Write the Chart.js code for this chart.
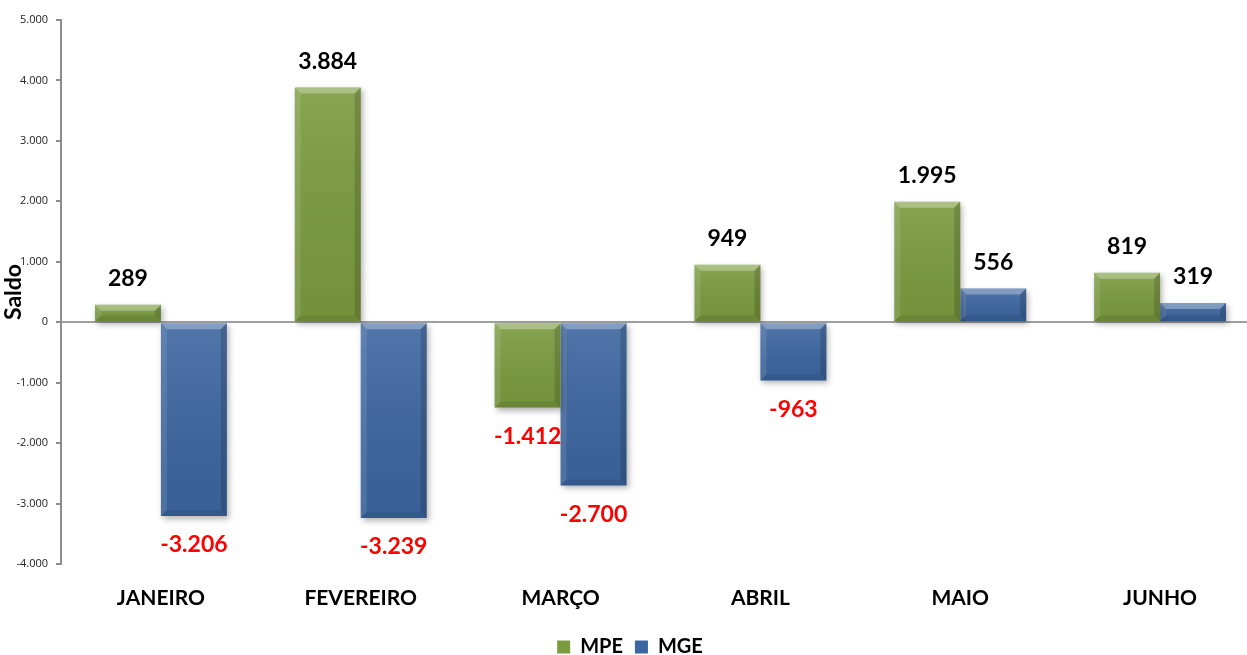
<!DOCTYPE html>
<html>
<head>
<meta charset="utf-8">
<script src="https://cdn.jsdelivr.net/npm/chart.js@4/dist/chart.umd.min.js"></script>
<style>
  html, body { margin: 0; padding: 0; background: #fff; overflow: hidden; }
  #wrap { width: 1260px; height: 667px; position: relative; }
</style>
</head>
<body>
<div id="wrap"><canvas id="saldoChart"></canvas></div>
<script>
var months = ['JANEIRO', 'FEVEREIRO', 'MARÇO', 'ABRIL', 'MAIO', 'JUNHO'];
var mpe = [289, 3884, -1412, 949, 1995, 819];
var mge = [-3206, -3239, -2700, -963, 556, 319];
var yTicks = [-4000, -3000, -2000, -1000, 0, 1000, 2000, 3000, 4000, 5000];

function fmt(v) {
    var neg = v < 0;
    var s = String(Math.abs(v)).replace(/\B(?=(\d{3})+(?!\d))/g, '.');
    return (neg ? '-' : '') + s;
}

function quad(ctx, pts, color) {
    ctx.fillStyle = color;
    ctx.beginPath();
    ctx.moveTo(pts[0], pts[1]);
    for (var k = 2; k < pts.length; k += 2) ctx.lineTo(pts[k], pts[k + 1]);
    ctx.closePath();
    ctx.fill();
}

// bevel look on the bars, drawn over the library's bar elements
var bevelPlugin = {
    id: 'bevel',
    afterDatasetsDraw: function(chart) {
        var ctx = chart.ctx;
        chart.data.datasets.forEach(function(ds, i) {
            var meta = chart.getDatasetMeta(i);
            meta.data.forEach(function(bar) {
                var l = bar.x - bar.width / 2;
                var r = bar.x + bar.width / 2;
                var t = Math.min(bar.y, bar.base);
                var btm = Math.max(bar.y, bar.base);
                var b = Math.min(6, (btm - t) / 2);
                ctx.save();
                // soft vertical sheen on the face
                var g = ctx.createLinearGradient(0, t, 0, btm);
                g.addColorStop(0, 'rgba(255,255,255,0.10)');
                g.addColorStop(1, 'rgba(0,0,0,0.06)');
                ctx.fillStyle = g;
                ctx.fillRect(l, t, r - l, btm - t);
                quad(ctx, [l, t, r, t, r - b, t + b, l + b, t + b], 'rgba(255,255,255,0.30)');
                quad(ctx, [r, t, r, btm, r - b, btm - b, r - b, t + b], 'rgba(0,0,0,0.15)');
                quad(ctx, [l, t, l, btm, l + b, btm - b, l + b, t + b], 'rgba(255,255,255,0.10)');
                quad(ctx, [l, btm, r, btm, r - b, btm - b, l + b, btm - b], 'rgba(0,0,0,0.08)');
                ctx.restore();
            });
        });
    }
};

// value labels above / below the bars
var valueLabels = {
    id: 'valueLabels',
    afterDatasetsDraw: function(chart) {
        var ctx = chart.ctx;
        ctx.save();
        ctx.font = 'bold 23px Lato, "Open Sans", sans-serif';
        ctx.textAlign = 'center';
        ctx.textBaseline = 'middle';
        chart.data.datasets.forEach(function(ds, i) {
            var meta = chart.getDatasetMeta(i);
            meta.data.forEach(function(bar, j) {
                var v = ds.data[j];
                if (v < 0) {
                    ctx.fillStyle = '#ff0000';
                    ctx.fillText(fmt(v), bar.x, bar.y + 29);
                } else {
                    ctx.fillStyle = '#000000';
                    ctx.fillText(fmt(v), bar.x, bar.y - 26);
                }
            });
        });
        ctx.restore();
    }
};

var shadowPlugin = {
    id: 'barShadow',
    beforeDatasetsDraw: function(chart) {
        chart.ctx.save();
        chart.ctx.shadowColor = 'rgba(0,0,0,0.30)';
        chart.ctx.shadowBlur = 6;
        chart.ctx.shadowOffsetX = 2;
        chart.ctx.shadowOffsetY = 3;
    },
    afterDatasetsDraw: function(chart) {
        chart.ctx.restore();
    }
};

var ctx = document.getElementById('saldoChart').getContext('2d');
var saldoChart = new Chart(ctx, {
    type: 'bar',
    data: {
        labels: months,
        datasets: [{
            label: 'MPE',
            data: mpe,
            backgroundColor: '#7A9B3E',
            borderWidth: 0
        }, {
            label: 'MGE',
            data: mge,
            backgroundColor: '#3C66A0',
            borderWidth: 0
        }]
    },
    options: {
        responsive: true,
        maintainAspectRatio: false,
        animation: false,
        layout: { padding: { top: 20, right: 0, left: 0, bottom: 0 } },
        datasets: {
            bar: { categoryPercentage: 0.66, barPercentage: 1.0 }
        },
        scales: {
            x: {
                grid: { display: false },
                border: { display: false },
                afterFit: function(axis) { axis.height = 61; },
                ticks: {
                    color: '#000',
                    padding: 14,
                    font: { family: 'Lato, "Open Sans", sans-serif', size: 21, weight: 'bold' }
                }
            },
            y: {
                min: -4000,
                max: 5000,
                afterBuildTicks: function(axis) {
                    axis.ticks = yTicks.map(function(v) { return { value: v }; });
                },
                afterFit: function(axis) { axis.width = 61; },
                border: { display: true, color: '#8c8c8c', width: 2 },
                grid: {
                    drawTicks: true,
                    tickLength: 5,
                    tickColor: '#8c8c8c',
                    lineWidth: 2,
                    color: function(c) { return c.tick && c.tick.value === 0 ? '#a0a0a0' : 'rgba(0,0,0,0)'; }
                },
                ticks: {
                    color: '#222',
                    padding: 8,
                    font: { family: '"Open Sans", sans-serif', size: 11 },
                    callback: function(v) { return fmt(v); }
                },
                title: {
                    display: true,
                    text: 'Saldo',
                    color: '#000',
                    padding: { top: 0, bottom: 0 },
                    font: { family: 'Lato, "Open Sans", sans-serif', size: 23, weight: 'bold' }
                }
            }
        },
        plugins: {
            legend: {
                position: 'bottom',
                labels: {
                    color: '#000',
                    boxWidth: 13,
                    boxHeight: 13,
                    padding: 12,
                    font: { family: 'Lato, "Open Sans", sans-serif', size: 20, weight: 'bold' }
                }
            },
            tooltip: { enabled: false }
        }
    },
    plugins: [shadowPlugin, bevelPlugin, valueLabels]
});
</script>
</body>
</html>
